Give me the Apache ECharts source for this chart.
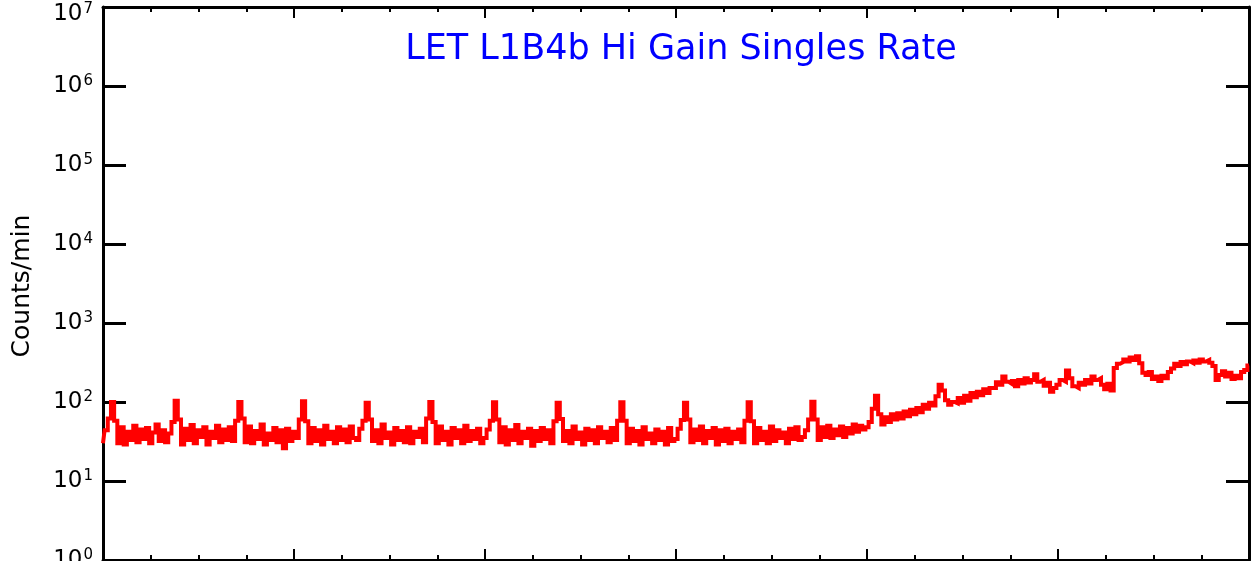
<!DOCTYPE html>
<html>
<head>
<meta charset="utf-8">
<script src="https://cdn.jsdelivr.net/npm/echarts@6/dist/echarts.min.js"></script>
<style>html,body{margin:0;padding:0;background:#fff}#c{width:1252px;height:561px}</style>
</head>
<body>
<div id="c"></div>
<script>
// Time axis in hours (labels not visible in reference), 4-minute samples
const titleText = 'LET L1B4b Hi Gain Singles Rate';
const yAxisName = 'Counts/min';
const sampleMinutes = 4;
const xMin = 0, xMax = 24, xInterval = 4;
const yTickExponents = [0, 1, 2, 3, 4, 5, 6, 7];
const rates = [
  30, 44, 62, 100, 58, 30, 48, 29, 42, 33, 50, 31, 45, 34, 47, 30, 41, 52, 32, 44,
  31, 40, 56, 104, 60, 29, 46, 33, 51, 30, 44, 36, 48, 29, 42, 35, 50, 31, 45, 33,
  48, 32, 58, 100, 62, 31, 49, 30, 43, 34, 52, 29, 40, 33, 47, 31, 44, 26, 46, 32,
  42, 35, 60, 102, 57, 30, 47, 32, 44, 29, 50, 34, 42, 30, 48, 33, 45, 31, 49, 35,
  33, 46, 58, 98, 60, 32, 44, 30, 52, 35, 41, 29, 47, 33, 43, 31, 48, 30, 42, 36,
  46, 31, 62, 100, 56, 30, 49, 33, 42, 29, 47, 35, 44, 30, 50, 32, 43, 34, 46, 30,
  35, 45, 58, 99, 60, 31, 48, 29, 44, 33, 51, 30, 42, 35, 46, 28, 43, 32, 47, 34,
  44, 30, 57, 98, 61, 32, 43, 30, 49, 34, 41, 29, 46, 33, 44, 30, 48, 35, 42, 31,
  47, 33, 58, 99, 58, 30, 46, 32, 43, 29, 48, 34, 40, 30, 45, 33, 42, 29, 47, 32,
  34, 46, 59, 98, 60, 31, 45, 33, 49, 30, 43, 35, 47, 29, 44, 32, 46, 30, 42, 34,
  45, 31, 58, 99, 57, 30, 47, 33, 42, 30, 49, 32, 44, 35, 41, 30, 46, 34, 48, 33,
  36, 44, 60, 101, 60, 33, 48, 36, 50, 35, 45, 38, 49, 36, 47, 40, 52, 42, 50, 45,
  48, 56, 82, 120, 70, 52, 64, 56, 70, 60, 72, 62, 76, 66, 80, 70, 84, 74, 92, 82,
  98, 90, 118, 165, 140, 105, 92, 100, 96, 112, 98, 120, 104, 130, 115, 135, 122, 145, 130, 150,
  150, 178, 165, 210, 180, 170, 185, 158, 190, 172, 200, 176, 190, 225, 180, 190, 160, 175, 135, 150,
  165, 190, 180, 250, 200, 158, 150, 175, 165, 190, 172, 210, 190, 200, 165, 145, 170, 140, 270, 305,
  320, 345, 325, 365, 340, 380, 310, 235, 220, 240, 195, 210, 185, 215, 200, 240, 265, 305, 285, 320,
  300, 325, 310, 335, 315, 345, 325, 340, 315, 285, 190, 220, 245, 210, 235, 195, 215, 200, 240, 255,
  290
];

const seriesData = rates.map((v, i) => [i * sampleMinutes / 60, v]);
const chart = echarts.init(document.getElementById('c'));

const fontFam = 'DejaVu Sans, Liberation Sans, sans-serif';
const axisLine = { show: true, onZero: false, lineStyle: { color: '#000', width: 3 } };
const labelRich = {
  b: { fontFamily: fontFam, fontSize: 23, color: '#000', verticalAlign: 'bottom', lineHeight: 24 },
  s: { fontFamily: fontFam, fontSize: 15, color: '#000', verticalAlign: 'top', lineHeight: 24, padding: [0, 0, 12, 1] }
};
const topExp = yTickExponents[yTickExponents.length - 1];

chart.setOption({
  animation: false,
  backgroundColor: '#fff',
  title: {
    text: titleText,
    left: 676,
    top: 27,
    textAlign: 'center',
    textStyle: { color: '#0000ff', fontFamily: fontFam, fontWeight: 'normal', fontSize: 35 }
  },
  graphic: [{
    type: 'text',
    x: 22, y: 286,
    rotation: Math.PI / 2,
    style: { text: yAxisName, font: '25px ' + fontFam, fill: '#000', textAlign: 'center', textVerticalAlign: 'middle' }
  }, {
    // the topmost decade label sits a little lower in the reference, inside the frame edge
    type: 'text',
    x: 93, y: 14,
    style: { text: '{b|10}{s|' + topExp + '}', rich: labelRich, align: 'right', verticalAlign: 'middle' }
  }],
  grid: { left: 103, right: 3, top: 7, bottom: 1, containLabel: false, outerBoundsMode: 'none' },
  xAxis: [{
    type: 'value', min: xMin, max: xMax, interval: xInterval, position: 'bottom',
    axisLine: axisLine,
    axisTick: { show: true, inside: true, length: 11, lineStyle: { color: '#000', width: 2 } },
    minorTick: { show: true, splitNumber: 4, length: 5, lineStyle: { color: '#000', width: 2 } },
    axisLabel: { show: false }, splitLine: { show: false }
  }, {
    type: 'value', min: xMin, max: xMax, interval: xInterval, position: 'top',
    axisLine: axisLine,
    axisTick: { show: true, inside: true, length: 11, lineStyle: { color: '#000', width: 2 } },
    minorTick: { show: true, splitNumber: 4, length: 5, lineStyle: { color: '#000', width: 2 } },
    axisLabel: { show: false }, splitLine: { show: false }
  }],
  yAxis: [{
    type: 'log', logBase: 10, min: 1, max: 1e7, position: 'left',
    axisLine: axisLine,
    axisTick: { show: true, inside: true, length: 23, lineStyle: { color: '#000', width: 3 } },
    minorTick: { show: false },
    splitLine: { show: false },
    axisLabel: {
      margin: 10,
      formatter: function (v) {
        const e = Math.round(Math.log10(v));
        if (yTickExponents.indexOf(e) < 0 || e === topExp) return '';
        return '{b|10}{s|' + e + '}';
      },
      rich: labelRich
    }
  }, {
    type: 'log', logBase: 10, min: 1, max: 1e7, position: 'right',
    axisLine: axisLine,
    axisTick: { show: true, inside: true, length: 23, lineStyle: { color: '#000', width: 3 } },
    axisLabel: { show: false }, splitLine: { show: false }
  }],
  series: [{
    type: 'line',
    data: seriesData,
    step: 'middle',
    symbol: 'none',
    showSymbol: false,
    clip: true,
    lineStyle: { color: '#ff0000', width: 4, join: 'miter', cap: 'butt' },
    itemStyle: { color: '#ff0000' }
  }]
});
</script>
</body>
</html>
